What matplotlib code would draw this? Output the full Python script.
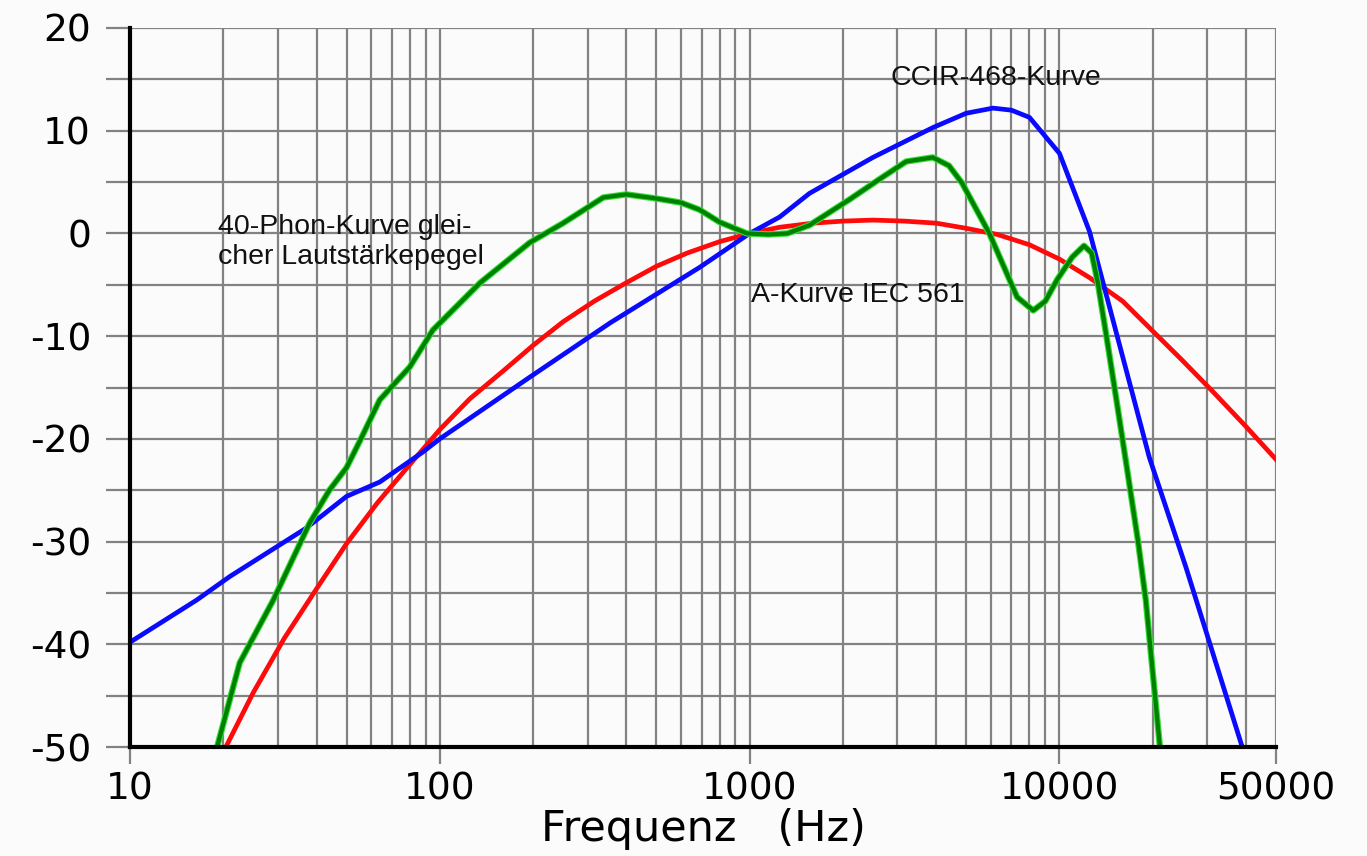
import matplotlib

matplotlib.use("Agg")
import matplotlib.pyplot as plt
from matplotlib.ticker import FixedLocator, LogLocator, NullFormatter

# CCIR-468 weighting (blue)
ccir_freq = [10, 16.4, 21, 37, 50, 64, 88, 100, 195, 355, 690, 1000, 1250, 1560,
             2500, 3900, 5000, 6100, 7000, 8000, 10000, 12500, 19500, 25600, 38900]
ccir_db = [-39.8, -35.7, -33.4, -28.7, -25.6, -24.2, -21.3, -20.0, -14.0, -8.7, -3.3, 0.0, 1.6, 3.9,
           7.4, 10.3, 11.7, 12.2, 12.0, 11.3, 7.8, 0.2, -21.8, -32.5, -50.0]

# A-weighting IEC 561 (red)
a_freq = [20, 25, 31.5, 40, 50, 63, 80, 100, 125, 160, 200, 250, 315, 400, 500, 630, 800,
          1000, 1250, 1600, 2000, 2500, 3150, 4000, 5000, 6300, 8000, 10000, 12500, 16000,
          20000, 25000, 31500, 40000, 50000]
a_db = [-50.5, -44.7, -39.4, -34.6, -30.2, -26.2, -22.5, -19.1, -16.1, -13.4, -10.9, -8.6, -6.6,
        -4.8, -3.2, -1.9, -0.8, 0.0, 0.6, 1.0, 1.2, 1.3, 1.2, 1.0, 0.5, -0.1, -1.1, -2.5, -4.3,
        -6.6, -9.5, -12.4, -15.5, -18.8, -22.0]

# 40-phon equal loudness contour, inverted (green)
phon_freq = [19.1, 22.6, 29, 38, 44, 50, 55, 64, 80, 95, 135, 195, 250, 337, 400, 500, 600,
             690, 800, 980, 1150, 1325, 1560, 2100, 2600, 3200, 3900, 4400, 4850, 5940, 7300,
             8230, 9000, 9830, 11000, 12000, 12700, 13300, 14300, 15400, 16600, 17900, 19000,
             21100]
phon_db = [-50.0, -41.8, -35.7, -28.2, -25.0, -22.8, -20.3, -16.2, -13.0, -9.4, -4.8, -0.9, 1.0,
           3.5, 3.8, 3.4, 3.0, 2.3, 1.1, 0.0, -0.1, 0.0, 0.8, 3.3, 5.2, 7.0, 7.4, 6.6, 4.9, 0.0,
           -6.2, -7.5, -6.6, -4.5, -2.3, -1.2, -1.9, -4.8, -10.7, -16.9, -23.3, -29.8, -35.7,
           -50.0]

x_ticks = [10, 100, 1000, 10000, 50000]
x_ticklabels = ["10", "100", "1000", "10000", "50000"]
y_ticklabels = [20, 10, 0, -10, -20, -30, -40, -50]

label_font = ["Liberation Sans", "DejaVu Sans"]

fig = plt.figure(figsize=(13.67, 8.56), dpi=100, facecolor="#fbfbfb")
ax = fig.add_axes([130 / 1367, 109 / 856, 1146 / 1367, 719 / 856])
ax.set_facecolor("#fbfbfb")

ax.set_xscale("log")
ax.set_xlim(10, 50000)
ax.set_ylim(-50, 20)

grid_kw = dict(color="#828282", linewidth=1.6)
ax.xaxis.set_major_locator(FixedLocator(x_ticks))
ax.xaxis.set_minor_locator(LogLocator(base=10, subs=range(2, 10), numticks=20))
ax.xaxis.set_minor_formatter(NullFormatter())
ax.set_xticklabels(x_ticklabels)
ax.set_yticks(range(-50, 21, 5))
ax.set_yticklabels([str(v) if v in y_ticklabels else "" for v in range(-50, 21, 5)])
ax.grid(True, which="both", axis="x", **grid_kw)
ax.grid(True, which="major", axis="y", **grid_kw)

ax.tick_params(axis="y", which="major", length=17, width=1.6, color="#828282",
               pad=11, labelsize=27, labelcolor="black")
ax.tick_params(axis="x", which="major", length=12, width=1.6, color="#828282",
               pad=6, labelsize=27, labelcolor="black")
ax.tick_params(axis="x", which="minor", length=0)

for side in ("top", "right"):
    ax.spines[side].set_visible(False)
for side in ("left", "bottom"):
    ax.spines[side].set_linewidth(3)
    ax.spines[side].set_color("black")
    ax.spines[side].set_zorder(5)

ax.plot(a_freq, a_db, color="#ff0a0a", linewidth=3.4, zorder=3)
ax.plot(ccir_freq, ccir_db, color="#0a0aff", linewidth=3.4, zorder=3)
ax.plot(phon_freq, phon_db, color="#33dd33", linewidth=4.6, zorder=3,
        solid_capstyle="round", solid_joinstyle="round")
ax.plot(phon_freq, phon_db, color="#008000", linewidth=3.0, zorder=4,
        solid_capstyle="round", solid_joinstyle="round")

ax.text(6250, 15.1, "CCIR-468-Kurve", family=label_font, fontsize=20.5,
        ha="center", va="center", color="#111111", zorder=6)
ax.text(19.2, -3.0, "40-Phon-Kurve glei-\ncher Lautstärkepegel", family=label_font,
        fontsize=20.5, ha="left", va="baseline", linespacing=1.2, color="#111111", zorder=6)
ax.text(1010, -6.0, "A-Kurve IEC 561", family=label_font, fontsize=20.5,
        ha="left", va="center", color="#111111", zorder=6)

ax.set_xlabel("Frequenz   (Hz)", fontsize=31, labelpad=0)

fig.savefig("out.png", dpi=100, facecolor=fig.get_facecolor())
